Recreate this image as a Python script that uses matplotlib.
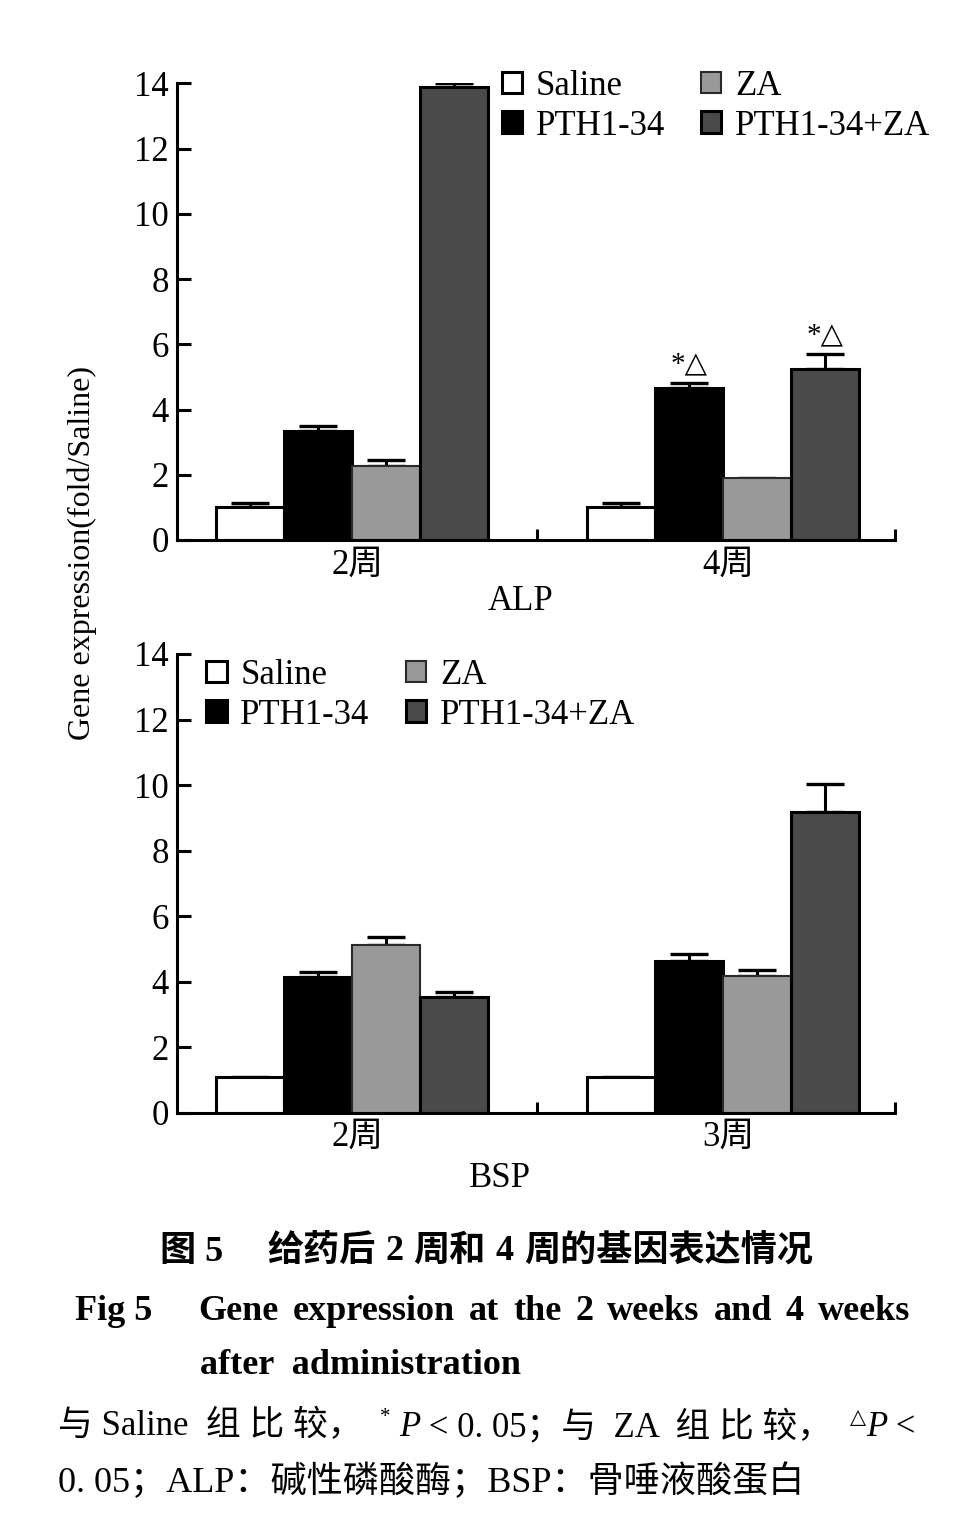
import numpy as np
import matplotlib.pyplot as plt

plt.rcParams['font.family'] = ['Liberation Serif', 'Noto Sans CJK SC', 'DejaVu Sans']
plt.rcParams['mathtext.default'] = 'regular'

# --- data ---
groups = ['Saline', 'PTH1-34', 'ZA', 'PTH1-34+ZA']
alp_times = ['2周', '4周']
bsp_times = ['2周', '3周']

alp_saline = [1.02, 1.02]
alp_pth = [3.34, 4.65]
alp_za = [2.27, 1.91]
alp_combo = [13.90, 5.23]
alp_saline_err = [0.12, 0.12]
alp_pth_err = [0.15, 0.15]
alp_za_err = [0.18, np.nan]
alp_combo_err = [0.12, 0.47]
alp_marks = ['', '*△', '', '*△']  # only for 4周

bsp_saline = [1.10, 1.10]
bsp_pth = [4.13, 4.64]
bsp_za = [5.12, 4.17]
bsp_combo = [3.52, 9.19]
bsp_saline_err = [np.nan, np.nan]
bsp_pth_err = [0.17, 0.19]
bsp_za_err = [0.25, 0.20]
bsp_combo_err = [0.17, 0.83]

fills = ['white', 'black', '#999999', '#4a4a4a']
edges = ['black', 'black', '#2a2a2a', 'black']
edge_lw = [2.2, 2.2, 1.5, 2.2]

W, H = 968, 1518
fig = plt.figure(figsize=(W / 100, H / 100), dpi=100)


def px_axes(x0, y_top, x1, y_bot):
    return fig.add_axes([x0 / W, 1 - y_bot / H, (x1 - x0) / W, (y_bot - y_top) / H])


def draw_panel(ax, times, vals, errs, legend_anchor):
    w = 0.183
    x = np.arange(len(times))
    for i, (v, e) in enumerate(zip(vals, errs)):
        pos = x + (i - 1.5) * w
        ax.bar(pos, v, w, color=fills[i], edgecolor=edges[i], linewidth=edge_lw[i],
               label=groups[i], zorder=2)
        e = np.asarray(e, dtype=float)
        ax.errorbar(pos, v, yerr=[np.zeros_like(e), e], fmt='none', ecolor='black',
                    elinewidth=2.2, capsize=14, capthick=2.4, zorder=1)
    ax.set_xlim(-0.471, 1.464)
    ax.set_ylim(0, 14)
    ax.set_yticks(range(0, 15, 2))
    ax.set_xticks(x + 0.015)
    ax.set_xticklabels(times, fontsize=25)
    ax.tick_params(axis='x', length=0, pad=6)
    ax.set_xticks([0.5, 1.464], minor=True)
    ax.tick_params(axis='x', which='minor', direction='in', length=8, width=2.2)
    ax.tick_params(axis='y', direction='in', length=10, width=2.2, labelsize=25, pad=6)
    for s in ['top', 'right']:
        ax.spines[s].set_visible(False)
    for s in ['left', 'bottom']:
        ax.spines[s].set_linewidth(2.2)
    ax.legend(ncol=2, loc='upper left', bbox_to_anchor=legend_anchor, frameon=False,
              fontsize=25, handlelength=0.58, handleheight=0.58, handletextpad=0.4,
              columnspacing=1.05, labelspacing=0.2, borderpad=0, borderaxespad=0)
    return x, w


# ALP panel
ax1 = px_axes(177, 83.3, 895, 540)
alp_vals = [alp_saline, alp_pth, alp_za, alp_combo]
alp_errs = [alp_saline_err, alp_pth_err, alp_za_err, alp_combo_err]
x, w = draw_panel(ax1, alp_times, alp_vals, alp_errs, (0.452, 1.03))
for i, m in enumerate(alp_marks):
    if m:
        top = alp_vals[i][1] + np.nan_to_num(alp_errs[i][1])
        ax1.annotate(m, (x[1] + (i - 1.5) * w, top), xytext=(0, 4), textcoords='offset points',
                     ha='center', va='bottom', fontsize=21,
                     family=['Liberation Serif', 'DejaVu Sans'])
ax1.text(0.478, -0.135, 'ALP', transform=ax1.transAxes, ha='center', va='center', fontsize=25)

# BSP panel
ax2 = px_axes(177, 654, 895, 1112.7)
bsp_vals = [bsp_saline, bsp_pth, bsp_za, bsp_combo]
bsp_errs = [bsp_saline_err, bsp_pth_err, bsp_za_err, bsp_combo_err]
draw_panel(ax2, bsp_times, bsp_vals, bsp_errs, (0.041, 0.99))
ax2.text(0.45, -0.143, 'BSP', transform=ax2.transAxes, ha='center', va='center', fontsize=25)

fig.text(82 / W, 1 - 553 / H, 'Gene expression(fold/Saline)', rotation=90,
         ha='center', va='center', fontsize=23)

# --- caption ---
renderer = fig.canvas.get_renderer()


def runs(x0, y, parts, size=25, weight='normal'):
    xp = x0
    for txt, kw in parts:
        kw = dict(kw)
        dy = kw.pop('dy', 0)
        fs = kw.pop('fs', size)
        gap = kw.pop('gap', 0)
        t = fig.text(xp / W, 1 - (y - dy) / H, txt, ha='left', va='center', fontsize=fs,
                     weight=weight, **kw)
        xp += t.get_window_extent(renderer).width + gap


runs(160, 1252, [
    ('图 5', {'gap': 44}),
    ('给药后', {'gap': 10}),
    ('2', {'gap': 10}),
    ('周和', {'gap': 10}),
    ('4', {'gap': 10}),
    ('周的基因表达情况', {}),
], size=26, weight='bold')
eng = 'Gene expression at the 2 weeks and 4 weeks'.split()
runs(75, 1311, [('Fig 5', {'gap': 46})] + [(wd, {'gap': 14}) for wd in eng],
     size=26, weight='bold')
runs(200, 1366, [
    ('after  administration', {}),
], size=26, weight='bold')

runs(58, 1427, [
    ('与 Saline  组 比 较，  ', {}),
    ('*', {'fs': 15, 'dy': 10}),
    (' ', {}),
    ('P', {'style': 'italic'}),
    (' < 0. 05；与  ZA  组 比 较，  ', {}),
    ('△', {'fs': 15, 'dy': 10, 'family': ['DejaVu Sans']}),
    ('P', {'style': 'italic'}),
    (' <', {}),
])
runs(58, 1482, [
    ('0. 05；ALP：碱性磷酸酶；BSP：骨唾液酸蛋白', {}),
], size=26)

fig.savefig('out.png', dpi=100)
